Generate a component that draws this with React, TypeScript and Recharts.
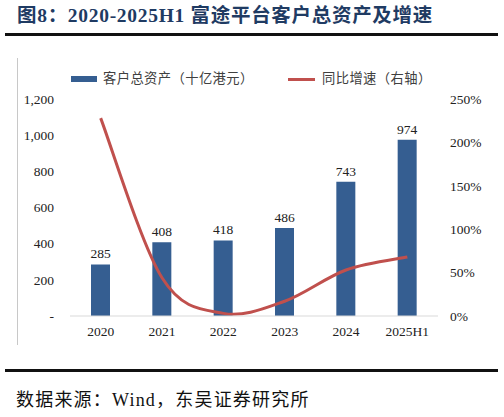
import React from "react";
import { ComposedChart, Bar, Line, XAxis, YAxis, LabelList } from "recharts";

const categories = ["2020", "2021", "2022", "2023", "2024", "2025H1"];
const assets = [285, 408, 418, 486, 743, 974];
const growth = [2.28, 0.44, 0.03, 0.17, 0.53, 0.68];
const leftTicks = [0, 200, 400, 600, 800, 1000, 1200];
const rightTicks = [0, 0.5, 1, 1.5, 2, 2.5];

const data = categories.map((c, i) => ({ cat: c, assets: assets[i], growth: growth[i] }));

const BLUE = "#355E91";
const RED = "#C0504D";
const SERIF = "'Liberation Serif', 'Times New Roman', serif";
const CJK = "'Liberation Serif', 'Noto Sans CJK SC', serif";

// Excel-like smoothed line (uniform Catmull-Rom as cubic Bezier)
function excelCurve(context: any) {
  let pts: number[][] = [];
  return {
    areaStart() {},
    areaEnd() {},
    lineStart() {
      pts = [];
    },
    point(x: number, y: number) {
      pts.push([+x, +y]);
    },
    lineEnd() {
      const n = pts.length;
      if (n === 0) return;
      context.moveTo(pts[0][0], pts[0][1]);
      for (let i = 0; i < n - 1; i++) {
        const p0 = pts[Math.max(0, i - 1)];
        const p1 = pts[i];
        const p2 = pts[i + 1];
        const p3 = pts[Math.min(n - 1, i + 2)];
        const c1x = p1[0] + (p2[0] - p0[0]) / 6;
        const c1y = p1[1] + (p2[1] - p0[1]) / 6;
        const c2x = p2[0] - (p3[0] - p1[0]) / 6;
        const c2y = p2[1] - (p3[1] - p1[1]) / 6;
        context.bezierCurveTo(c1x, c1y, c2x, c2y, p2[0], p2[1]);
      }
    },
  };
}

const tickStyle = { fontFamily: SERIF, fontSize: 13.5, fill: "#222" };

export default function App() {
  return (
    <div
      style={{
        position: "absolute",
        left: 0,
        top: 0,
        width: 504,
        height: 417,
        background: "#fff",
        overflow: "hidden",
      }}
    >
      <div
        style={{
          position: "absolute",
          left: 17,
          top: 4,
          fontFamily: "'Liberation Serif', 'Noto Sans CJK SC', serif",
          fontWeight: 700,
          fontSize: 19.5,
          letterSpacing: 0.7,
          color: "#1F3B63",
          whiteSpace: "nowrap",
          lineHeight: "24px",
        }}
      >
        图8：2020-2025H1 富途平台客户总资产及增速
      </div>
      <div style={{ position: "absolute", left: 5, top: 33, width: 493, height: 2.5, background: "#111" }} />
      <div style={{ position: "absolute", left: 17, top: 58, width: 1, height: 287, background: "#C8C8C8" }} />

      <div style={{ position: "absolute", left: 71, top: 76, width: 26, height: 6, background: BLUE }} />
      <div
        style={{
          position: "absolute",
          left: 103,
          top: 70,
          fontFamily: CJK,
          fontSize: 13.3,
          color: "#404040",
          whiteSpace: "nowrap",
          lineHeight: "18px",
          letterSpacing: 0.4,
        }}
      >
        客户总资产（十亿港元）
      </div>
      <div style={{ position: "absolute", left: 288, top: 77.5, width: 27, height: 3, background: RED }} />
      <div
        style={{
          position: "absolute",
          left: 322,
          top: 70,
          fontFamily: CJK,
          fontSize: 13.3,
          color: "#404040",
          whiteSpace: "nowrap",
          lineHeight: "18px",
          letterSpacing: 0.4,
        }}
      >
        同比增速（右轴）
      </div>

      <div style={{ position: "absolute", left: 0, top: 0 }}>
        <ComposedChart
          width={504}
          height={340}
          data={data}
          margin={{ top: 99, right: 0, bottom: 0, left: 0 }}
        >
          <XAxis
            dataKey="cat"
            height={24}
            axisLine={{ stroke: "#D9D9D9", strokeWidth: 1 }}
            tickLine={false}
            tickSize={0}
            tickMargin={10}
            tick={tickStyle}
            interval={0}
          />
          <YAxis
            yAxisId="left"
            width={70}
            domain={[0, 1200]}
            ticks={leftTicks}
            axisLine={false}
            tickLine={false}
            tickSize={0}
            tickMargin={16}
            tick={tickStyle}
            tickFormatter={(v: number) => (v === 0 ? "-" : v.toLocaleString("en-US"))}
          />
          <YAxis
            yAxisId="right"
            orientation="right"
            width={66}
            domain={[0, 2.5]}
            ticks={rightTicks}
            axisLine={false}
            tickLine={false}
            tickSize={0}
            tickMargin={12}
            tick={tickStyle}
            tickFormatter={(v: number) => `${Math.round(v * 100)}%`}
          />
          <Bar yAxisId="left" dataKey="assets" fill={BLUE} barSize={19} isAnimationActive={false}>
            <LabelList
              dataKey="assets"
              position="top"
              offset={6}
              style={{ fontFamily: SERIF, fontSize: 13.5, fill: "#222" }}
            />
          </Bar>
          <Line
            yAxisId="right"
            dataKey="growth"
            type={excelCurve as any}
            stroke={RED}
            strokeWidth={3}
            dot={false}
            activeDot={false}
            isAnimationActive={false}
          />
        </ComposedChart>
      </div>

      <div style={{ position: "absolute", left: 5, top: 369, width: 493, height: 2.5, background: "#111" }} />
      <div
        style={{
          position: "absolute",
          left: 16,
          top: 390,
          fontFamily: CJK,
          fontSize: 18,
          letterSpacing: 1.2,
          color: "#111",
          whiteSpace: "nowrap",
          lineHeight: "20px",
        }}
      >
        数据来源：Wind，东吴证券研究所
      </div>
    </div>
  );
}
